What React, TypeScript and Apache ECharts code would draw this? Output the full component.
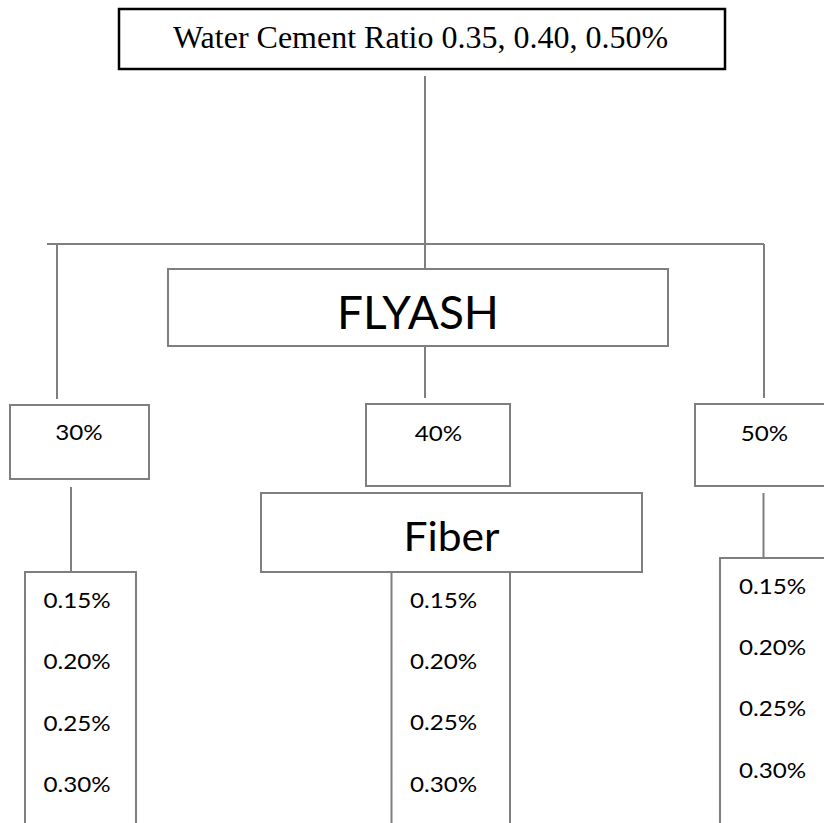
import React, { useEffect, useRef } from "react";
import * as echarts from "echarts";

const rootLabel = "Water Cement Ratio 0.35, 0.40, 0.50%";
const flyashLabel = "FLYASH";
const flyashLevels = ["30%", "40%", "50%"];
const fiberLabel = "Fiber";
const fiberLevels = ["0.15%", "0.20%", "0.25%", "0.30%"];

const W = 824;
const H = 823;
const GREY = "#7f7f7f";
const SANS = "Lato, 'Open Sans', sans-serif";
const SERIF = "'Liberation Serif', 'Times New Roman', serif";

function rect(x: number, y: number, w: number, h: number, stroke = GREY, lw = 2) {
  return {
    type: "rect",
    shape: { x, y, width: w, height: h },
    style: { fill: "#fff", stroke, lineWidth: lw },
    silent: true,
  };
}
function line(x1: number, y1: number, x2: number, y2: number) {
  return {
    type: "line",
    shape: { x1, y1, x2, y2 },
    style: { stroke: GREY, lineWidth: 2 },
    silent: true,
  };
}
function text(t: string, x: number, y: number, size: number, family = SANS, scaleX = 1) {
  return {
    type: "text",
    x,
    y,
    scaleX,
    style: {
      text: t,
      fontSize: size,
      fontFamily: family,
      fill: "#000",
      align: "center",
      verticalAlign: "middle",
    },
    silent: true,
    z: 10,
  };
}

export default function App() {
  const ref = useRef<HTMLDivElement>(null);
  useEffect(() => {
    if (!ref.current) return;
    const chart = echarts.init(ref.current, undefined, { renderer: "svg" });

    const levelBoxes = [
      { x: 10, y: 405, w: 139, h: 74, tx: 79, ty: 431.5 },
      { x: 366, y: 404, w: 144, h: 82, tx: 438.5, ty: 432 },
      { x: 695, y: 404, w: 140, h: 82, tx: 764.5, ty: 432 },
    ];
    const lists = [
      { x: 25, y: 572, w: 111, tx: 77, ty0: 599.5 },
      { x: 391.5, y: 572, w: 118.5, tx: 443.5, ty0: 599 },
      { x: 720, y: 558, w: 120, tx: 772.5, ty0: 585 },
    ];
    const step = 61.4;

    const elements: any[] = [];
    elements.push(line(425, 76, 425, 269));
    elements.push(line(47, 244, 764, 244));
    elements.push(line(57, 244, 57, 399));
    elements.push(line(764, 244, 764, 398));
    elements.push(line(425, 346, 425, 398));
    elements.push(line(71, 487, 71, 572));
    elements.push(line(763.5, 493, 763.5, 558));

    elements.push(rect(119, 9, 606, 60, "#000", 2.5));
    elements.push(text(rootLabel, 420.5, 37, 32, SERIF));

    elements.push(rect(168, 269, 500, 77));
    elements.push(text(flyashLabel, 418, 311.5, 46, SANS));

    lists.forEach((l) => {
      elements.push(rect(l.x, l.y, l.w, 300));
      fiberLevels.forEach((lab, i) => {
        elements.push(text(lab, l.tx, l.ty0 + i * step, 22, SANS, 1.1));
      });
    });

    elements.push(rect(261, 493, 381, 79));
    elements.push(text(fiberLabel, 451.5, 535.5, 41, SANS, 1.04));

    flyashLevels.forEach((lab, i) => {
      const b = levelBoxes[i];
      elements.push(rect(b.x, b.y, b.w, b.h));
      elements.push(text(lab, b.tx, b.ty, 22, SANS, 1.1));
    });

    chart.setOption({
      animation: false,
      backgroundColor: "#fff",
      graphic: { elements },
    });
    return () => chart.dispose();
  }, []);

  return (
    <div
      ref={ref}
      style={{ position: "fixed", left: 0, top: 0, width: W, height: H, background: "#fff" }}
    />
  );
}
